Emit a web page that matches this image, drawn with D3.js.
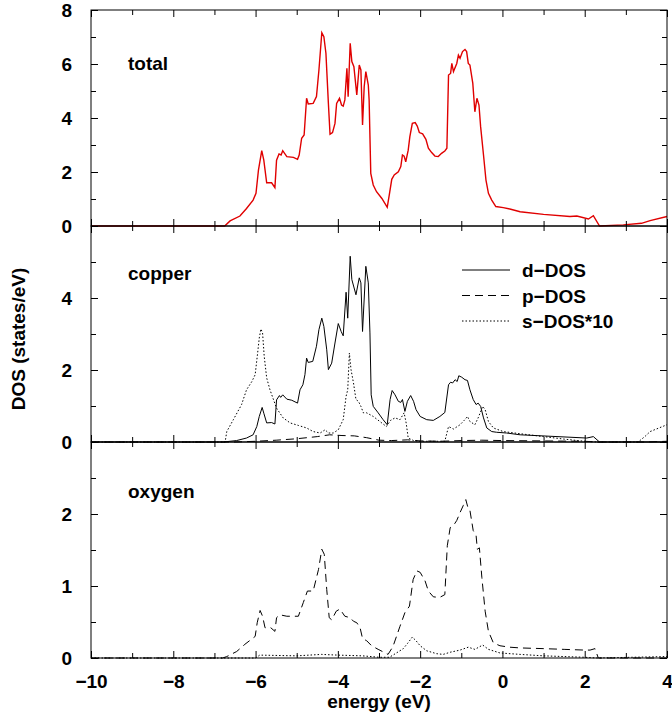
<!DOCTYPE html>
<html>
<head>
<meta charset="utf-8">
<script src="https://cdn.jsdelivr.net/npm/d3@7"></script>
<style>
  body { margin: 0; background: #fff; }
  svg { display: block; }
  text { font-family: "Liberation Sans", Arial, Helvetica, sans-serif; font-weight: bold; }
</style>
</head>
<body>
<svg id="chart" width="672" height="721"></svg>
<script>
// energy (eV), DOS (states/eV)
const totalDos = [[-10,0],[-6.75,0],[-6.62,0.19],[-6.38,0.37],[-6.22,0.65],[-6.06,0.96],[-5.99,1.21],[-5.93,2.07],[-5.85,2.79],[-5.80,2.44],[-5.73,1.6],[-5.61,1.6],[-5.53,1.42],[-5.49,2.44],[-5.43,2.67],[-5.38,2.63],[-5.34,2.79],[-5.24,2.57],[-5.08,2.54],[-4.98,2.47],[-4.94,2.63],[-4.88,3.25],[-4.82,3.37],[-4.76,4.73],[-4.72,4.52],[-4.60,4.54],[-4.52,4.79],[-4.46,5.78],[-4.39,7.16],[-4.34,7.01],[-4.29,6.40],[-4.23,4.54],[-4.19,3.40],[-4.13,3.46],[-4.07,3.80],[-4.03,4.54],[-3.96,4.73],[-3.91,4.48],[-3.87,4.44],[-3.83,4.67],[-3.78,5.84],[-3.75,4.79],[-3.70,6.77],[-3.66,6.09],[-3.61,5.90],[-3.54,4.85],[-3.48,5.96],[-3.44,5.78],[-3.40,3.74],[-3.36,5.16],[-3.32,5.72],[-3.26,5.22],[-3.24,4.67],[-3.20,1.95],[-3.14,1.52],[-3.06,1.27],[-2.93,1.02],[-2.80,0.69],[-2.75,1.15],[-2.69,1.73],[-2.63,1.89],[-2.53,2.01],[-2.47,2.20],[-2.43,2.63],[-2.39,2.59],[-2.35,2.38],[-2.29,2.81],[-2.25,3.31],[-2.19,3.80],[-2.12,3.83],[-2.07,3.70],[-2.02,3.46],[-1.94,3.41],[-1.86,3.21],[-1.80,2.88],[-1.72,2.72],[-1.64,2.59],[-1.56,2.57],[-1.48,2.69],[-1.40,2.78],[-1.35,2.88],[-1.31,5.59],[-1.26,5.65],[-1.23,6.02],[-1.19,5.72],[-1.11,6.02],[-1.07,6.33],[-1.03,6.21],[-0.97,6.46],[-0.91,6.54],[-0.87,6.46],[-0.83,6.02],[-0.79,5.96],[-0.72,5.28],[-0.67,4.23],[-0.62,4.73],[-0.57,4.48],[-0.53,3.68],[-0.46,2.63],[-0.40,1.70],[-0.34,1.21],[-0.26,0.96],[-0.16,0.72],[0.02,0.68],[0.18,0.63],[0.43,0.53],[1.0,0.43],[1.64,0.35],[1.81,0.37],[2.09,0.26],[2.21,0.38],[2.36,0.0],[2.94,0.04],[3.38,0.10],[3.59,0.20],[4.0,0.35]];

const cuD = [[-10,0],[-6.78,0],[-6.46,0.04],[-6.22,0.11],[-6.06,0.20],[-5.97,0.43],[-5.91,0.71],[-5.84,0.96],[-5.80,0.80],[-5.73,0.53],[-5.61,0.54],[-5.53,0.50],[-5.49,1.17],[-5.42,1.29],[-5.39,1.24],[-5.34,1.31],[-5.24,1.19],[-5.12,1.16],[-4.98,1.08],[-4.92,1.45],[-4.85,1.59],[-4.80,1.87],[-4.76,2.33],[-4.72,2.21],[-4.61,2.24],[-4.52,2.66],[-4.46,3.12],[-4.39,3.44],[-4.34,3.21],[-4.27,2.56],[-4.23,2.01],[-4.15,2.19],[-4.07,2.75],[-3.99,3.29],[-3.92,3.07],[-3.87,2.95],[-3.80,4.16],[-3.76,3.44],[-3.70,5.16],[-3.66,4.51],[-3.56,4.09],[-3.48,4.56],[-3.44,4.42],[-3.40,3.07],[-3.32,4.88],[-3.26,4.42],[-3.22,3.03],[-3.19,1.31],[-3.14,0.99],[-3.02,0.81],[-2.90,0.62],[-2.80,0.48],[-2.73,1.18],[-2.68,1.43],[-2.61,1.31],[-2.53,1.13],[-2.47,1.10],[-2.43,1.18],[-2.37,0.85],[-2.31,1.13],[-2.23,1.29],[-2.16,1.13],[-2.10,0.90],[-2.00,0.71],[-1.84,0.62],[-1.68,0.60],[-1.52,0.71],[-1.40,0.82],[-1.31,1.59],[-1.26,1.66],[-1.21,1.64],[-1.15,1.73],[-1.10,1.68],[-1.06,1.84],[-0.99,1.80],[-0.91,1.73],[-0.85,1.71],[-0.79,1.45],[-0.71,1.18],[-0.64,1.04],[-0.59,1.08],[-0.53,0.99],[-0.46,0.67],[-0.38,0.39],[-0.26,0.29],[-0.14,0.27],[0.10,0.25],[0.43,0.20],[2.05,0.11],[2.21,0.15],[2.36,0],[4,0]];

const cuP = [[-10,0],[-6.5,0],[-6.0,0.02],[-5.5,0.05],[-5.0,0.09],[-4.5,0.15],[-4.2,0.2],[-3.9,0.18],[-3.6,0.17],[-3.3,0.12],[-3.0,0.05],[-2.7,0.04],[-2.3,0.06],[-2.0,0.03],[-1.5,0.02],[-1.0,0.04],[-0.5,0.05],[0,0.04],[1,0.03],[2,0.02],[2.3,0],[3.5,0],[4,0.02]];

const cuS10 = [[-10,0],[-6.74,0],[-6.70,0.29],[-6.54,0.62],[-6.34,1.04],[-6.22,1.45],[-6.09,1.68],[-6.01,1.87],[-5.95,2.47],[-5.91,2.89],[-5.87,3.14],[-5.83,3.03],[-5.79,2.38],[-5.73,1.78],[-5.65,1.45],[-5.49,0.94],[-5.33,0.67],[-5.16,0.53],[-4.96,0.46],[-4.76,0.39],[-4.60,0.29],[-4.43,0.25],[-4.31,0.34],[-4.23,0.25],[-4.11,0.25],[-3.99,0.34],[-3.87,0.62],[-3.80,1.27],[-3.76,1.45],[-3.72,2.47],[-3.68,2.01],[-3.62,1.64],[-3.56,1.18],[-3.50,1.13],[-3.44,0.99],[-3.38,0.81],[-3.30,0.81],[-3.14,0.71],[-2.98,0.57],[-2.82,0.43],[-2.72,0.60],[-2.61,0.67],[-2.49,0.62],[-2.39,0.81],[-2.34,0.53],[-2.29,0.11],[-2.16,0.04],[-2.0,0.02],[-1.40,0.02],[-1.31,0.43],[-1.19,0.36],[-1.03,0.48],[-0.93,0.60],[-0.85,0.71],[-0.79,0.57],[-0.67,0.48],[-0.59,0.67],[-0.48,0.99],[-0.42,0.90],[-0.34,0.57],[-0.22,0.39],[0.02,0.29],[0.43,0.23],[1.0,0.15],[1.5,0.08],[2.0,0.02],[2.3,0],[3.3,0],[3.47,0.16],[3.59,0.29],[4.0,0.48]];

const oxP = [[-10,0],[-6.8,0],[-6.70,0.02],[-6.46,0.09],[-6.26,0.19],[-6.01,0.30],[-5.96,0.49],[-5.89,0.66],[-5.83,0.58],[-5.77,0.42],[-5.63,0.42],[-5.53,0.37],[-5.49,0.56],[-5.41,0.60],[-5.24,0.58],[-4.96,0.58],[-4.84,0.77],[-4.74,0.93],[-4.60,0.93],[-4.47,1.23],[-4.39,1.51],[-4.33,1.44],[-4.27,0.95],[-4.21,0.56],[-4.15,0.53],[-4.04,0.65],[-3.95,0.68],[-3.83,0.58],[-3.70,0.56],[-3.62,0.51],[-3.54,0.49],[-3.46,0.42],[-3.40,0.27],[-3.30,0.24],[-3.18,0.17],[-3.02,0.12],[-2.78,0.05],[-2.66,0.16],[-2.49,0.44],[-2.37,0.63],[-2.26,0.72],[-2.17,1.09],[-2.08,1.21],[-2.00,1.19],[-1.88,1.07],[-1.80,0.93],[-1.68,0.85],[-1.53,0.84],[-1.40,0.88],[-1.34,1.56],[-1.27,1.81],[-1.19,1.84],[-1.11,1.91],[-1.03,2.02],[-0.95,2.12],[-0.89,2.20],[-0.83,2.07],[-0.79,2.05],[-0.71,1.77],[-0.64,1.70],[-0.61,1.51],[-0.56,1.53],[-0.50,1.12],[-0.42,0.65],[-0.34,0.37],[-0.22,0.21],[-0.06,0.17],[0.18,0.15],[0.43,0.14],[1.0,0.13],[1.5,0.12],[2.0,0.11],[2.13,0.11],[2.25,0.13],[2.33,0],[4,0]];

const oxS = [[-10,0],[-6.0,0],[-5.9,0.04],[-5.0,0.03],[-4.4,0.05],[-4.0,0.04],[-3.4,0.03],[-3.0,0.01],[-2.75,0.01],[-2.66,0.04],[-2.41,0.13],[-2.31,0.20],[-2.19,0.29],[-2.10,0.24],[-2.00,0.17],[-1.84,0.10],[-1.60,0.06],[-1.44,0.05],[-1.27,0.08],[-1.03,0.11],[-0.83,0.15],[-0.67,0.12],[-0.48,0.18],[-0.34,0.12],[-0.06,0.07],[0.43,0.05],[1.0,0.03],[2.0,0.01],[2.3,0],[4,0.02]];

const xMajor = [-10, -8, -6, -4, -2, 0, 2, 4];
const xMinor = [-9, -7, -5, -3, -1, 1, 3];
const legendLabels = ["d\u2212DOS", "p\u2212DOS", "s\u2212DOS*10"];

let svg = d3.select("#chart");

let x = d3.scaleLinear().domain([-10, 4]).range([91, 667]);

// one entry per stacked panel
let panels = [
  { name: "total", top: 10, bottom: 226, ymax: 8, yMajor: [0, 2, 4, 6, 8], yLabels: [0, 2, 4, 6, 8], yMinor: [1, 3, 5, 7], labelY: 70,
    series: [{ data: totalDos, color: "#e00000", width: 1.4, dash: null }] },
  { name: "copper", top: 226, bottom: 442, ymax: 6, yMajor: [0, 2, 4, 6], yLabels: [0, 2, 4], yMinor: [1, 3, 5], labelY: 280,
    series: [
      { data: cuD, color: "#000", width: 1, dash: null },
      { data: cuP, color: "#000", width: 1, dash: "8,5" },
      { data: cuS10, color: "#000", width: 1, dash: "1.5,2" }
    ] },
  { name: "oxygen", top: 442, bottom: 658, ymax: 3, yMajor: [0, 1, 2, 3], yLabels: [0, 1, 2], yMinor: [0.5, 1.5, 2.5], labelY: 498,
    series: [
      { data: oxP, color: "#000", width: 1, dash: "8,5" },
      { data: oxS, color: "#000", width: 1, dash: "1.5,2" }
    ] }
];

panels.forEach((p, i) => {
  let y = d3.scaleLinear().domain([0, p.ymax]).range([p.bottom, p.top]);
  let g = svg.append("g").attr("class", "panel");

  let line = d3.line()
    .x(d => x(d[0]))
    .y(d => y(d[1]));

  p.series.forEach(s => {
    g.append("path")
      .datum(s.data)
      .attr("fill", "none")
      .attr("stroke", s.color)
      .attr("stroke-width", s.width)
      .attr("stroke-dasharray", s.dash)
      .attr("d", line);
  });

  // inward ticks on all four sides
  let isLast = i === panels.length - 1;
  let bottomMajor = g.append("g").attr("transform", `translate(0,${p.bottom})`)
    .call(d3.axisBottom(x).tickValues(xMajor).tickSize(-7).tickPadding(isLast ? 17 : 0)
      .tickFormat(isLast ? d3.format("d") : ""));
  g.append("g").attr("transform", `translate(0,${p.bottom})`)
    .call(d3.axisBottom(x).tickValues(xMinor).tickSize(-5).tickFormat(""));
  g.append("g").attr("transform", `translate(0,${p.top})`)
    .call(d3.axisTop(x).tickValues(xMajor).tickSize(-7).tickFormat(""));
  g.append("g").attr("transform", `translate(0,${p.top})`)
    .call(d3.axisTop(x).tickValues(xMinor).tickSize(-5).tickFormat(""));

  g.append("g").attr("transform", "translate(91,0)")
    .call(d3.axisLeft(y).tickValues(p.yMajor).tickSize(-7).tickPadding(19)
      .tickFormat(d => p.yLabels.includes(d) ? d3.format("d")(d) : ""));
  g.append("g").attr("transform", "translate(91,0)")
    .call(d3.axisLeft(y).tickValues(p.yMinor).tickSize(-5).tickFormat(""));
  g.append("g").attr("transform", "translate(667,0)")
    .call(d3.axisRight(y).tickValues(p.yMajor).tickSize(-7).tickFormat(""));
  g.append("g").attr("transform", "translate(667,0)")
    .call(d3.axisRight(y).tickValues(p.yMinor).tickSize(-5).tickFormat(""));

  g.selectAll(".domain").remove();
  g.selectAll(".tick line").attr("stroke", "#000");
  g.selectAll(".tick text")
    .attr("fill", "#000")
    .style("font-size", "19px")
    .style("font-family", '"Liberation Sans", Arial, Helvetica, sans-serif')
    .style("font-weight", "bold");

  g.append("rect")
    .attr("x", 91).attr("y", p.top)
    .attr("width", 667 - 91).attr("height", p.bottom - p.top)
    .attr("fill", "none").attr("stroke", "#000").attr("stroke-width", 1);

  g.append("text")
    .attr("x", 128).attr("y", p.labelY)
    .style("font-size", "19px")
    .text(p.name);
});

// legend in copper panel
let legendStyles = panels[1].series;
let legend = svg.append("g").attr("class", "legend");
legendLabels.forEach((label, i) => {
  let ly = 270 + i * 25.5;
  legend.append("line")
    .attr("x1", 462).attr("x2", 510)
    .attr("y1", ly).attr("y2", ly)
    .attr("stroke", legendStyles[i].color)
    .attr("stroke-width", 1)
    .attr("stroke-dasharray", legendStyles[i].dash);
  legend.append("text")
    .attr("x", 522).attr("y", ly + 7)
    .style("font-size", "19px")
    .text(label);
});

svg.append("text")
  .attr("x", 379).attr("y", 708)
  .attr("text-anchor", "middle")
  .style("font-size", "19px")
  .text("energy (eV)");

svg.append("text")
  .attr("transform", "translate(25,339) rotate(-90)")
  .attr("text-anchor", "middle")
  .style("font-size", "19px")
  .text("DOS (states/eV)");
</script>
</body>
</html>
